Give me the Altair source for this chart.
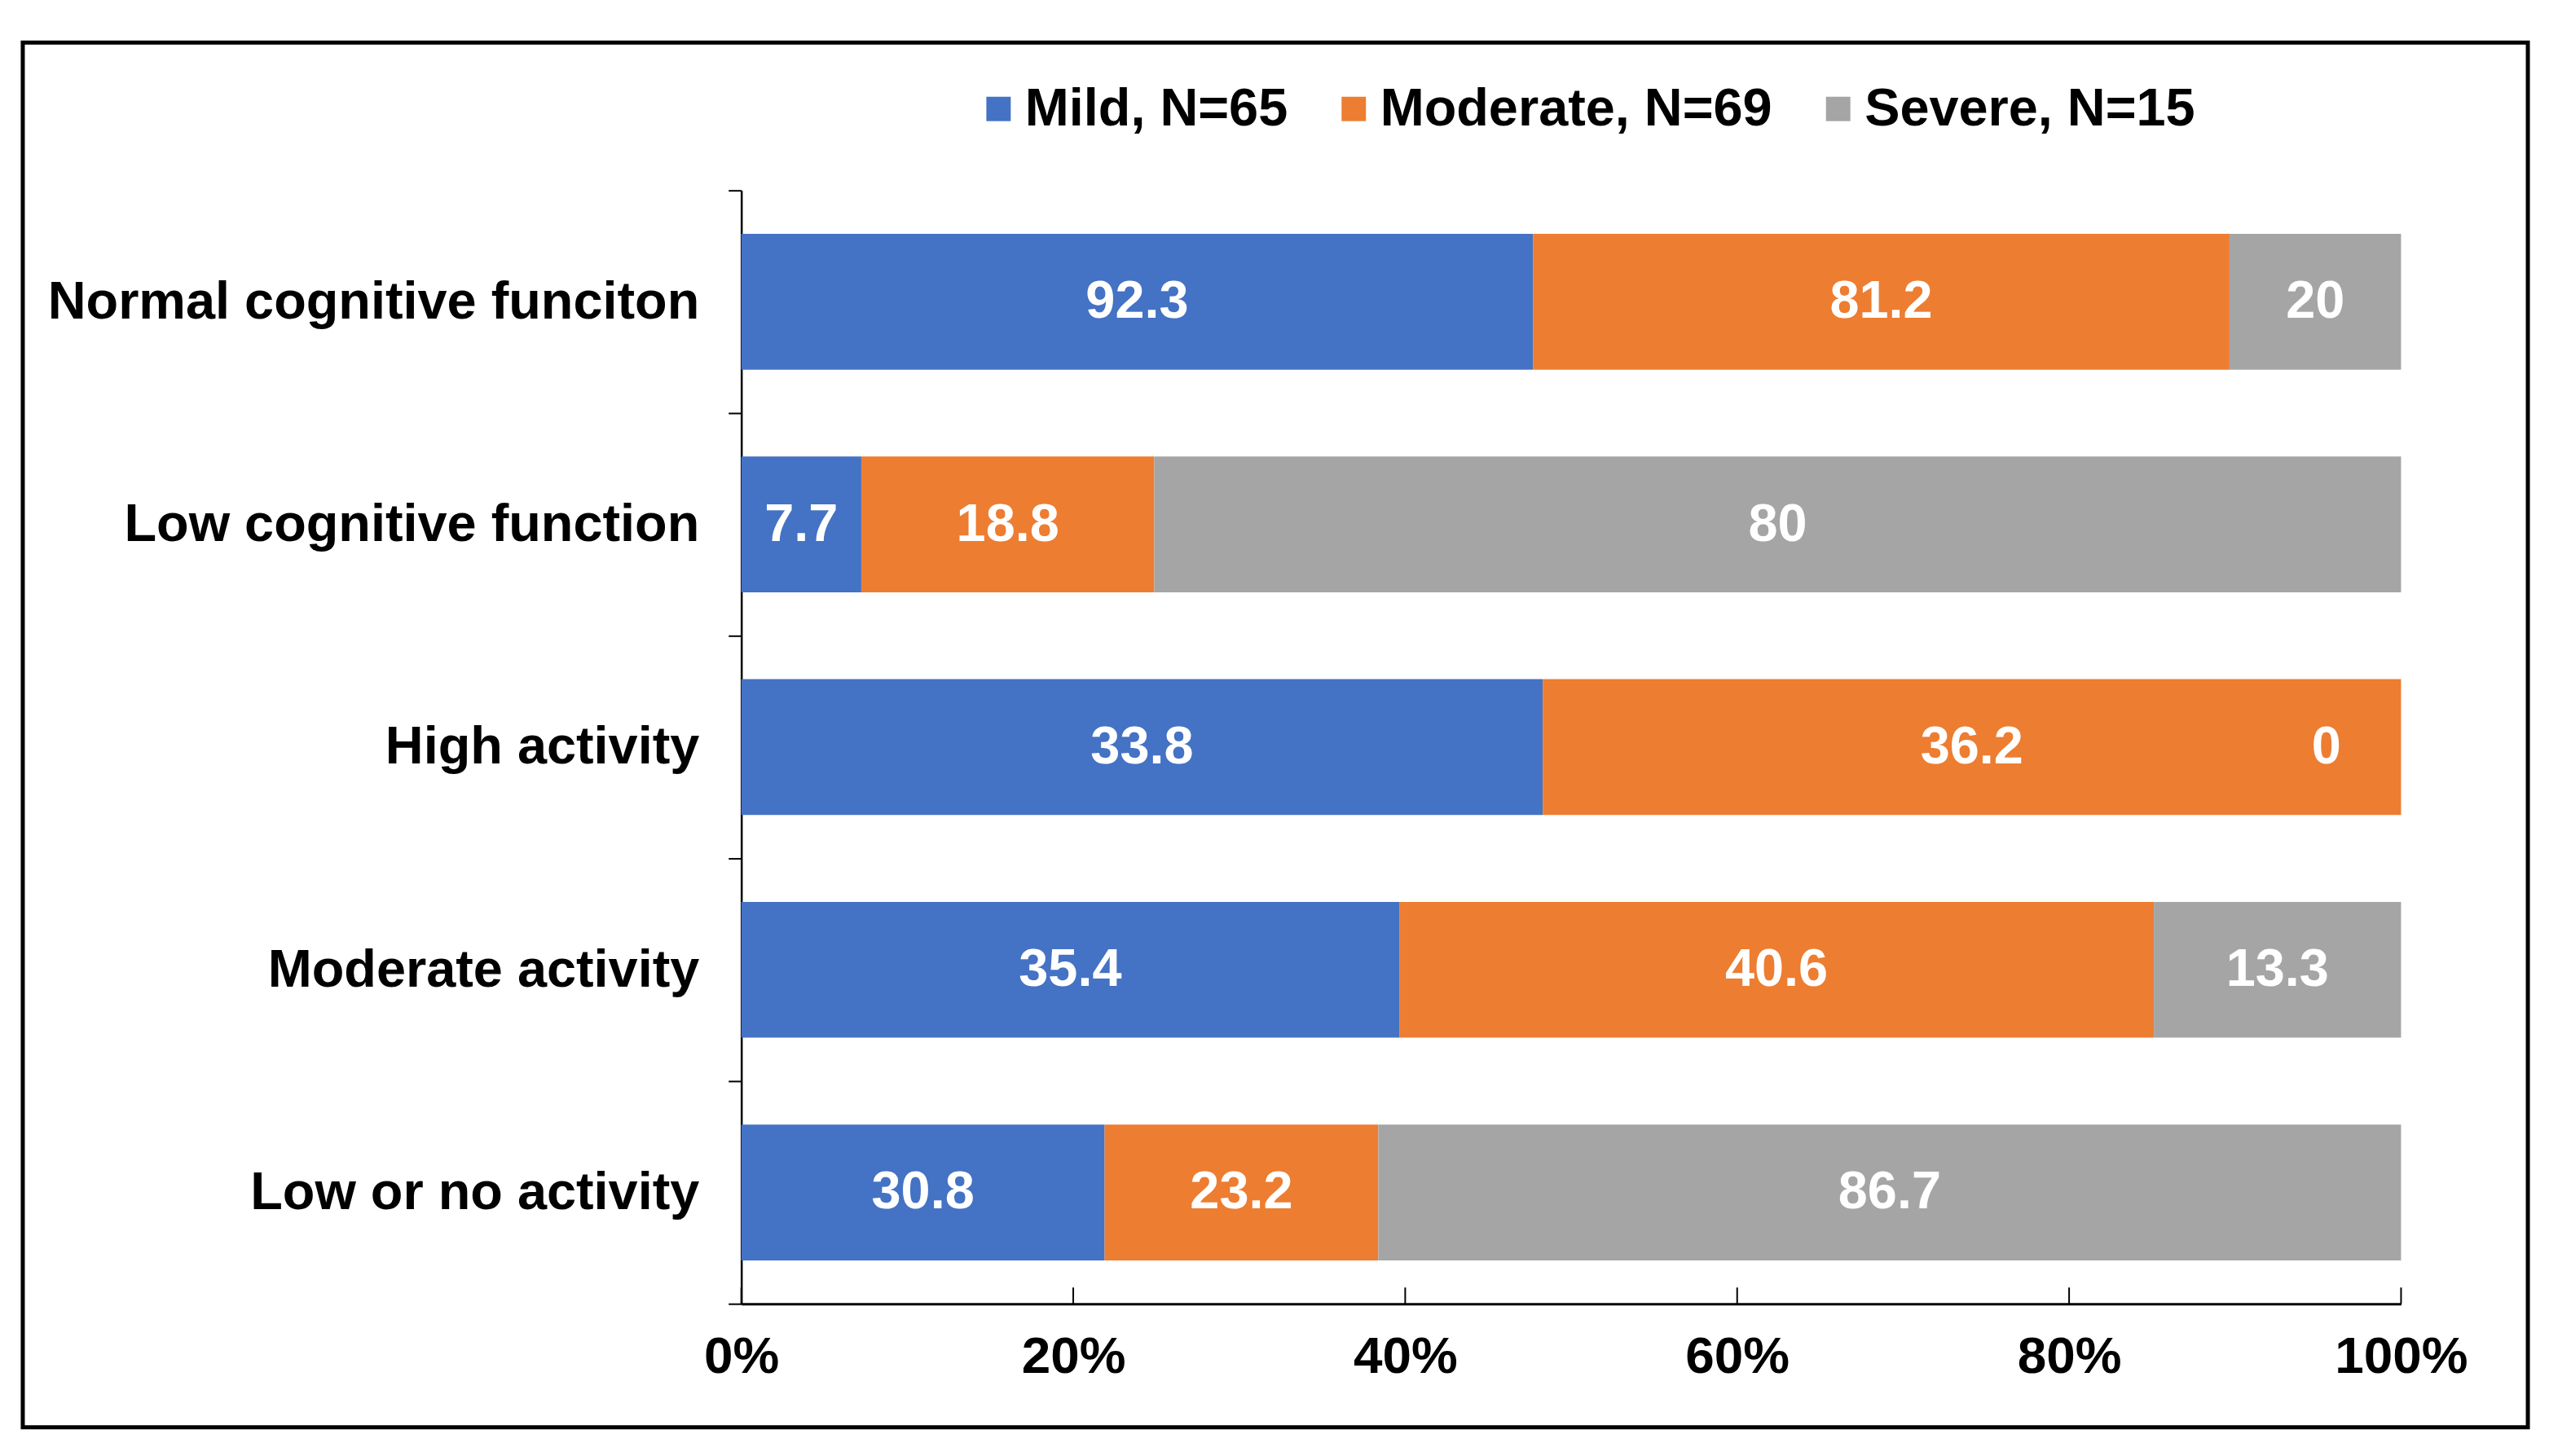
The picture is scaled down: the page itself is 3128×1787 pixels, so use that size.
import altair as alt
import pandas as pd

rows = ["Normal cognitive funciton", "Low cognitive function", "High activity",
        "Moderate activity", "Low or no activity"]
series = ["Mild, N=65", "Moderate, N=69", "Severe, N=15"]
mild = [92.3, 7.7, 33.8, 35.4, 30.8]
moderate = [81.2, 18.8, 36.2, 40.6, 23.2]
severe = [20, 80, 0, 13.3, 86.7]
colors = ["#4472C4", "#ED7D31", "#A5A5A5"]
x_ticks = [0, 0.2, 0.4, 0.6, 0.8, 1.0]

recs = []
for i, r in enumerate(rows):
    for j, (s, vals) in enumerate(zip(series, [mild, moderate, severe])):
        recs.append({"row": r, "series": s, "order": j, "value": vals[i]})
df = pd.DataFrame(recs)

W, H = 2042, 1370
FONT = "Liberation Sans"

xscale = alt.Scale(domain=[0, 1], nice=False, zero=True)
yscale = alt.Scale(paddingInner=0, paddingOuter=0)
yenc = alt.Y("row:N", sort=rows, title=None, scale=yscale,
             axis=alt.Axis(labelFont=FONT, labelFontSize=65, labelFontWeight="bold",
                           labelColor="black", labelPadding=36, labelLimit=2000,
                           tickBand="extent", tickSize=16, tickColor="black", tickWidth=2,
                           domainColor="black", domainWidth=2.5, grid=False))

base = alt.Chart(df).transform_stack(
    stack="value", groupby=["row"], as_=["x0", "x1"], offset="normalize",
    sort=[alt.SortField("order", order="ascending")]
).transform_calculate(mid="(datum.x0 + datum.x1) / 2")

bars = base.mark_bar(height={"band": 0.61}).encode(
    x=alt.X("x0:Q", scale=xscale, title=None,
            axis=alt.Axis(format=".0%", values=x_ticks, labelFont=FONT, labelFontSize=64,
                          labelFontWeight="bold", labelColor="black", ticks=False,
                          tickSize=0, labelPadding=34, domainColor="black", domainWidth=3,
                          grid=False, labelFlush=False)),
    x2="x1:Q",
    y=yenc,
    color=alt.Color("series:N", scale=alt.Scale(domain=series, range=colors),
                    legend=alt.Legend(title=None, orient="none", legendX=284, legendY=-133,
                                      direction="horizontal", symbolType="square",
                                      symbolSize=900, symbolStrokeWidth=0,
                                      labelFont=FONT, labelFontSize=65, labelFontWeight="bold",
                                      labelColor="black", labelOffset=0, columnPadding=48,
                                      labelLimit=2000, padding=0)),
)

labels = base.transform_filter("datum.value > 0").mark_text(
    font=FONT, fontSize=65, fontWeight="bold", color="white", baseline="middle"
).encode(
    x=alt.X("mid:Q", scale=xscale),
    y=alt.Y("row:N", sort=rows, scale=yscale),
    text=alt.Text("value:Q", format="~g"),
)

zero_labels = base.transform_filter("datum.value == 0").mark_text(
    font=FONT, fontSize=65, fontWeight="bold", color="white", baseline="middle", dx=-92
).encode(
    x=alt.X("mid:Q", scale=xscale),
    y=alt.Y("row:N", sort=rows, scale=yscale),
    text=alt.Text("value:Q", format="~g"),
)

tick_df = pd.DataFrame({"t": x_ticks})
xticks = alt.Chart(tick_df).mark_rule(color="black", strokeWidth=2).encode(
    x=alt.X("t:Q", scale=xscale),
    y=alt.value(H - 20),
    y2=alt.value(H),
)

frame = alt.Chart(pd.DataFrame({"a": [0]})).mark_rect(
    fill=None, stroke="black", strokeWidth=5
).encode(
    x=alt.value(-884), x2=alt.value(W + 156),
    y=alt.value(-182), y2=alt.value(H + 152),
)

chart = alt.layer(bars, labels, zero_labels, xticks, frame).properties(
    width=W, height=H,
    autosize=alt.AutoSizeParams(type="none"),
    padding={"left": 904, "top": 224, "right": 174, "bottom": 177},
    background="white",
).configure_view(stroke=None)

chart.save("out.html", embed_options={"renderer": "svg", "actions": False})
